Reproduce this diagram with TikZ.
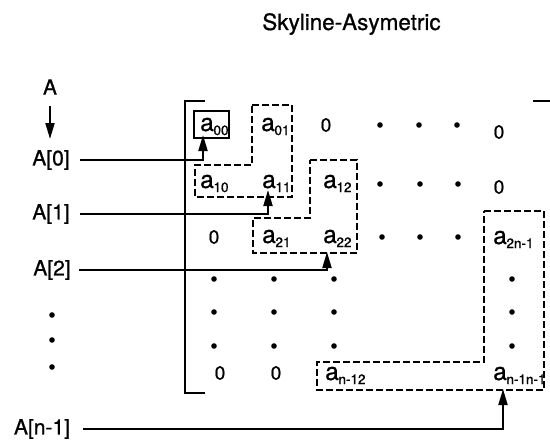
\documentclass[tikz,border=0pt]{standalone}
\usepackage{fontspec}
\setmainfont{TeX Gyre Heros}[UprightFeatures={FakeBold=0.8}]
\usetikzlibrary{arrows.meta}
\newcommand\elt[1]{a\kern-0.3pt\raisebox{-4pt}{\fontsize{13.5}{13.5}\selectfont #1}}
\tikzset{
  lab/.style={inner sep=0pt, font=\fontsize{21}{21}\selectfont},
  el/.style={inner sep=0pt, anchor=base west, font=\fontsize{24.5}{24.5}\selectfont},
  zero/.style={inner sep=0pt, font=\fontsize{19}{19}\selectfont},
  conn/.style={line width=2pt, -{Triangle[length=16pt,width=9pt]}},
  band/.style={line width=1.6pt, dash pattern=on 7pt off 3pt},
  brk/.style={line width=2.8pt},
  dotc/.style={fill=black}
}
\begin{document}
\begin{tikzpicture}[x=1pt,y=-1pt]
\useasboundingbox (0,0) rectangle (550,447);
% title
\node[inner sep=0pt, anchor=base, font=\fontsize{22.5}{22.5}\selectfont] (title) at (351.5,30) {Skyline-Asymetric};
% left labels
\node[lab] (A) at (50,87) {A};
\node[lab] (A0) at (51,160) {A[0]};
\node[lab] (A1) at (51,214) {A[1]};
\node[lab] (A2) at (52,270) {A[2]};
\node[lab] (An) at (42,429) {A[n-1]};
\coordinate (Aend) at (50,139);
\foreach \y in {315,340,367} \fill[dotc] (52,\y) circle (2.8pt);
% bracket
\draw[brk] (205,101) -- (185,101) -- (185,393) -- (205,393);
\draw[brk] (533,101) -- (550,101);
% elements
\node[el] (a00) at (200,131) {\elt{00}};
\node[el] (a01) at (261,131) {\elt{01}};
\node[zero] (z02) at (326,125) {0};
\node[zero] (z07) at (499,132) {0};
\node[el] (a10) at (200,188) {\elt{10}};
\node[el] (a11) at (262,188) {\elt{11}};
\node[el] (a12) at (323,188) {\elt{12}};
\node[zero] (z17) at (499,187) {0};
\node[zero] (z20) at (214,237) {0};
\node[el] (a21) at (262,243) {\elt{21}};
\node[el] (a22) at (323,243) {\elt{22}};
\node[el] (a2n) at (493,244) {\elt{2n-1}};
\node[zero] (zn0) at (220,373) {0};
\node[zero] (zn1) at (276,373) {0};
\node[el] (an2) at (325,380) {\elt{n-12}};
\node[el] (ann) at (493,380) {\elt{n-1n-1}};
% dots in matrix
\foreach \x in {380,419,457} \fill[dotc] (\x,125) circle (2.8pt);
\foreach \x in {380,420,458} \fill[dotc] (\x,184) circle (2.8pt);
\foreach \x in {382,420,458} \fill[dotc] (\x,237) circle (2.8pt);
\foreach \y in {279,312,346} {
  \foreach \x in {214,274,334,512} \fill[dotc] (\x,\y) circle (2.8pt);
}
% solid box around a00
\draw[line width=1.8pt] (194,111) rectangle (229,138);
% dashed skyline bands
\draw[band] (252,105) -- (292,105) -- (292,197) -- (195,197) -- (195,165) -- (252,165) -- cycle;
\draw[band] (310,160) -- (357,160) -- (357,253) -- (253,253) -- (253,218) -- (310,218) -- cycle;
\draw[band] (484,211) -- (544,211) -- (544,390) -- (317,390) -- (317,362) -- (484,362) -- cycle;
% pointer arrows
\coordinate (t0) at (203,135);
\coordinate (t1) at (268,190);
\coordinate (t2) at (327,252);
\coordinate (t3) at (503,389);
\draw[conn, shorten <=11pt] (A.south) -- (Aend);
\draw[conn, shorten <=10pt] (A0.east) -| (t0);
\draw[conn, shorten <=10pt] (A1.east) -| (t1);
\draw[conn, shorten <=8pt] (A2.east) -| (t2);
\draw[conn, shorten <=13pt] (An.east) -| (t3);
\end{tikzpicture}
\end{document}
